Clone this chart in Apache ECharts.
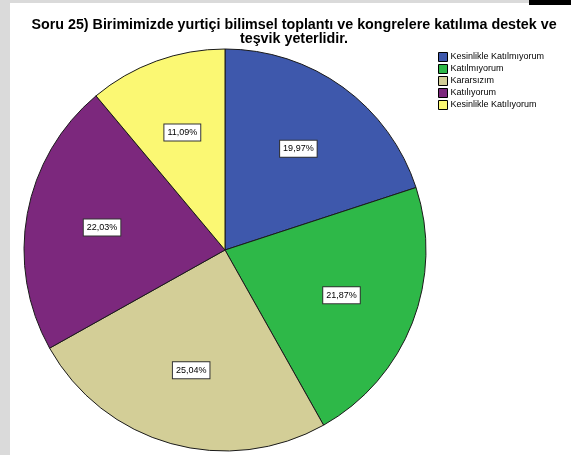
<!DOCTYPE html>
<html>
<head>
<meta charset="utf-8">
<script src="https://cdn.jsdelivr.net/npm/echarts@6/dist/echarts.min.js"></script>
<style>
    html, body { margin: 0; padding: 0; }
    body { width: 571px; height: 455px; background: #dadada; position: relative; overflow: hidden; }
    #paper { position: absolute; left: 10px; top: 3px; right: 0; bottom: 0; background: #ffffff; }
    #corner { position: absolute; left: 529px; top: 0; width: 42px; height: 5px; background: #000000; }
    #chart { position: absolute; left: 0; top: 0; width: 571px; height: 455px; }
</style>
</head>
<body>
<div id="paper"></div>
<div id="corner"></div>
<div id="chart"></div>
<script>
    // veriler
    var categories = ['Kesinlikle Katılmıyorum', 'Katılmıyorum', 'Kararsızım', 'Katılıyorum', 'Kesinlikle Katılıyorum'];
    var percents = [19.97, 21.87, 25.04, 22.03, 11.09];
    var colors = ['#3E58AC', '#2EB848', '#D3CE97', '#7C287D', '#FBF873'];
    var titleText = 'Soru 25) Birimimizde yurtiçi bilimsel toplantı ve kongrelere katılıma destek ve\nteşvik yeterlidir.';

    var font = '"Liberation Sans", Arial, sans-serif';

    var pieData = categories.map(function (name, i) {
        return { name: name, value: percents[i], itemStyle: { color: colors[i] } };
    });
    // etiket katmani icin ayni veriler (saydam)
    var labelData = categories.map(function (name, i) {
        return { name: name, value: percents[i] };
    });

    var chart = echarts.init(document.getElementById('chart'));
    var option = {
        backgroundColor: 'transparent',
        animation: false,
        title: {
            text: titleText,
            left: 289,
            top: 13,
            textAlign: 'center',
            textStyle: {
                fontFamily: font,
                fontSize: 14.3,
                fontWeight: 'bold',
                lineHeight: 14,
                color: '#000000'
            }
        },
        legend: {
            orient: 'vertical',
            left: 433,
            top: 47,
            itemWidth: 9,
            itemHeight: 9,
            itemGap: 2,
            icon: 'rect',
            data: categories,
            itemStyle: { borderColor: '#000000', borderWidth: 1 },
            textStyle: { fontFamily: font, fontSize: 9, lineHeight: 10, color: '#000000', padding: [0, 0, 0, -2] }
        },
        series: [
            {
                name: 'pie',
                type: 'pie',
                center: [225, 250],
                radius: [0, 201],
                startAngle: 90,
                clockwise: true,
                silent: true,
                label: { show: false },
                labelLine: { show: false },
                itemStyle: { borderColor: '#1a1a1a', borderWidth: 1 },
                data: pieData
            },
            {
                name: 'labels',
                type: 'pie',
                center: [225, 250],
                radius: [0, 244],
                startAngle: 90,
                clockwise: true,
                silent: true,
                legendHoverLink: false,
                itemStyle: { color: 'rgba(0,0,0,0)', borderWidth: 0 },
                labelLine: { show: false },
                label: {
                    show: true,
                    position: 'inside',
                    formatter: function (p) {
                        return p.value.toFixed(2).replace('.', ',') + '%';
                    },
                    fontFamily: font,
                    fontSize: 9,
                    color: '#000000',
                    backgroundColor: '#ffffff',
                    borderColor: '#333333',
                    borderWidth: 1,
                    padding: [4, 3, 3, 3]
                },
                data: labelData
            }
        ]
    };
    chart.setOption(option);
</script>
</body>
</html>
